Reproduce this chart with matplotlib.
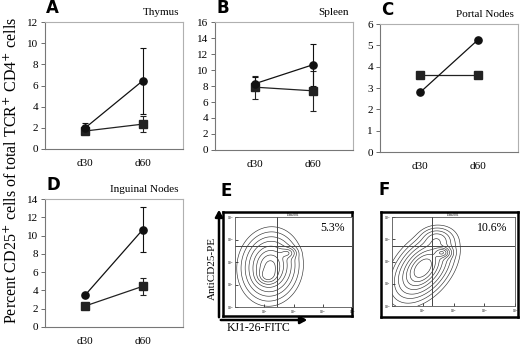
import numpy as np
import matplotlib
matplotlib.use("Agg")
import matplotlib.pyplot as plt

plt.rcParams['font.family'] = ['Liberation Serif', 'DejaVu Serif']

W, H = 520, 345

# values
days = ['d30', 'd60']

thymus_circle = [2.0, 6.45]
thymus_circle_err = [0.45, 3.1]
thymus_square = [1.7, 2.35]
thymus_square_err = [0.3, 0.75]

spleen_circle = [8.3, 10.65]
spleen_circle_err = [0.8, 2.65]
spleen_square = [7.85, 7.4]
spleen_square_err = [1.45, 2.5]

portal_circle = [2.8, 5.25]
portal_square = [3.6, 3.6]

inguinal_circle = [3.5, 10.65]
inguinal_circle_err = [0.0, 2.45]
inguinal_square = [2.3, 4.45]
inguinal_square_err = [0.0, 0.95]

# flow cytometry: density components (x centre, y centre, sx, sy, corr, weight)
flow_e = [(1.20, 1.80, 0.40, 0.62, 0.05, 1.0),
          (1.80, 2.40, 0.15, 0.13, 0.0, 0.35),
          (1.10, 1.35, 0.20, 0.20, 0.0, 0.35)]
flow_f = [(1.00, 1.70, 0.42, 0.62, 0.45, 1.0),
          (1.65, 2.40, 0.15, 0.14, 0.0, 0.55),
          (1.45, 3.00, 0.25, 0.25, 0.0, 0.2)]
flow_e_pct = '5.3%'
flow_f_pct = '10.6%'
gate_e = (1.43, 2.72)
gate_f = (1.30, 2.71)


def rect(x0, y0, x1, y1):
    return [x0 / W, 1 - y1 / H, (x1 - x0) / W, (y1 - y0) / H]


fig = plt.figure(figsize=(W / 100, H / 100), dpi=100)


def line_panel(box, circ, circ_err, sq, sq_err, ymax, ystep, title, letter):
    ax = fig.add_axes(rect(*box))
    x = np.arange(len(days))
    ax.errorbar(x, sq, yerr=sq_err, color='#222222', marker='s', ms=5.2,
                lw=0.9, elinewidth=0.8, capsize=2.5, capthick=0.8)
    ax.errorbar(x, circ, yerr=circ_err, color='#111111', marker='o', ms=5.2,
                lw=0.9, elinewidth=0.8, capsize=2.5, capthick=0.8)
    ax.set_xlim(-0.7, 1.7)
    ax.set_ylim(0, ymax)
    ax.set_yticks(np.arange(0, ymax + 0.01, ystep))
    ax.set_xticks(x)
    ax.set_xticklabels(days)
    ax.tick_params(axis='x', length=0, pad=7, labelsize=8)
    ax.tick_params(axis='y', length=3, width=0.6, pad=2, labelsize=8, color='#555555')
    for s in ['top', 'right']:
        ax.spines[s].set_color('#b0b0b0')
    for s in ['left', 'bottom']:
        ax.spines[s].set_color('#777777')
    for s in ax.spines.values():
        s.set_linewidth(0.8)
    ax.text(0.97, 1.04, title, transform=ax.transAxes, ha='right', va='bottom',
            fontsize=8)
    ax.text(0.01, 1.04, letter, transform=ax.transAxes, ha='left', va='bottom',
            fontsize=12, fontweight='bold', family='DejaVu Sans')
    return ax


line_panel((45, 22, 183, 149), thymus_circle, thymus_circle_err,
           thymus_square, thymus_square_err, 12, 2, 'Thymus', 'A')
line_panel((215, 22, 353, 150), spleen_circle, spleen_circle_err,
           spleen_square, spleen_square_err, 16, 2, 'Spleen', 'B')
line_panel((380, 24, 518, 152), portal_circle, None,
           portal_square, None, 6, 1, 'Portal Nodes', 'C')
line_panel((45, 199, 183, 327), inguinal_circle, inguinal_circle_err,
           inguinal_square, inguinal_square_err, 14, 2, 'Inguinal Nodes', 'D')

fig.text(12 / W, 1 - 170 / H,
         'Percent CD25$^{+}$ cells of total TCR$^{+}$ CD4$^{+}$ cells',
         rotation=90, ha='center', va='center', fontsize=11.5)


def density(comps, gx, gy):
    z = np.zeros_like(gx)
    for cx, cy, sx, sy, r, w in comps:
        dx = (gx - cx) / sx
        dy = (gy - cy) / sy
        q = (dx ** 2 - 2 * r * dx * dy + dy ** 2) / (1 - r ** 2)
        z += w * np.exp(-0.5 * q)
    return z


def flow_panel(outer, inner, comps, gate, pct, letter):
    fr = fig.add_axes(rect(*outer))
    fr.set_xticks([])
    fr.set_yticks([])
    for s in fr.spines.values():
        s.set_linewidth(1.8)
        s.set_color('black')
    ax = fig.add_axes(rect(*inner))
    g = np.linspace(0, 4, 300)
    gx, gy = np.meshgrid(g, g)
    z = density(comps, gx, gy)
    ax.contour(gx, gy, z / z.max(),
               levels=[0.015, 0.04, 0.09, 0.17, 0.3, 0.45, 0.62, 0.8],
               colors='#333333', linewidths=0.45)
    ax.axvline(gate[0], color='#444444', lw=0.7)
    ax.axhline(gate[1], color='#444444', lw=0.7)
    ax.set_xlim(0, 4)
    ax.set_ylim(0, 4)
    ax.set_xticks(range(1, 5))
    ax.set_yticks(range(5))
    ax.set_xticklabels(['10$^{%d}$' % i for i in range(1, 5)])
    ax.set_yticklabels(['10$^{%d}$' % i for i in range(5)])
    ax.tick_params(direction='in', length=2, width=0.5, labelsize=2.5, pad=1)
    for s in ax.spines.values():
        s.set_linewidth(0.6)
        s.set_color('#555555')
    ax.set_title('Data.001', fontsize=2.5, pad=0.5)
    ax.text(0.94, 0.88, pct, transform=ax.transAxes, ha='right', va='center',
            fontsize=8.5)
    fr.text(-0.02, 1.12, letter, transform=fr.transAxes, ha='left', va='bottom',
            fontsize=12, fontweight='bold', family='DejaVu Sans')
    return fr


flow_panel((223, 212, 352, 316), (235, 217, 352, 307), flow_e, gate_e,
           flow_e_pct, 'E')
flow_panel((381, 212, 518, 317), (392, 217, 515, 306), flow_f, gate_f,
           flow_f_pct, 'F')

# axis arrows of panel E
fig.add_artist(matplotlib.patches.FancyArrowPatch(
    (219 / W, 1 - 320 / H), (219 / W, 1 - 207 / H), transform=fig.transFigure,
    arrowstyle='-|>,head_length=4,head_width=2.2', lw=1.8, color='black'))
fig.add_artist(matplotlib.patches.FancyArrowPatch(
    (218 / W, 1 - 320 / H), (310 / W, 1 - 320 / H), transform=fig.transFigure,
    arrowstyle='-|>,head_length=4,head_width=2.2', lw=1.8, color='black'))
fig.text(212 / W, 1 - 268 / H, 'AntiCD25-PE', rotation=90, ha='center',
         va='center', fontsize=8)
fig.text(258 / W, 1 - 328 / H, 'KJ1-26-FITC', ha='center', va='center',
         fontsize=8.5)

fig.savefig('out.png', dpi=100)
